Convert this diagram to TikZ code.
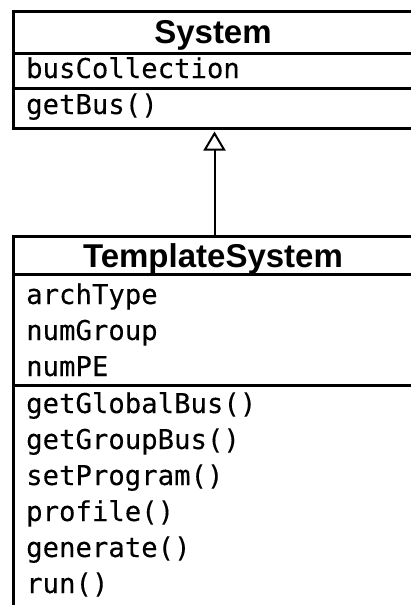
\documentclass[tikz,border=0pt]{standalone}
\usepackage{fontspec}
\setmainfont{Liberation Sans}
\newfontfamily\membfont[FakeBold=0.2]{DejaVu Sans Mono}
\usetikzlibrary{arrows.meta}

\tikzset{
  classbox/.style={draw=black, line width=3pt, fill=none, rectangle,
    anchor=north west, inner sep=0pt, minimum width=402pt},
  title/.style={anchor=base, inner sep=0pt,
    font=\fontsize{33}{33}\selectfont\bfseries},
  member/.style={anchor=base west, inner sep=0pt,
    font=\fontsize{27.3}{27.3}\selectfont\membfont},
  divider/.style={line width=3pt},
  inherits/.style={line width=2pt, shorten >=1.5pt,
    -{Triangle[open, length=19pt, width=22pt, line width=2pt]}}
}

\begin{document}
\begin{tikzpicture}[x=1pt, y=-1pt]
  \useasboundingbox (0,0) rectangle (411,605);
  \fill[white] (0,0) rectangle (411,605);
  \clip (0,0) rectangle (411,605);

  % base class
  \node[classbox, minimum height=117pt] (sys) at (12,10) {};
  \node[title] (systitle) at (213,43) {System};
  \draw[divider] (12,53) coordinate (s1l) -- (414,53) coordinate (s1r);
  \node[member] (buscoll) at (26,78) {busCollection};
  \draw[divider] (12,88.5) coordinate (s2l) -- (414,88.5) coordinate (s2r);
  \node[member] (getbus) at (26,114) {getBus()};

  % derived class
  \node[classbox, minimum height=370.5pt] (tmpl) at (12,235) {};
  \node[title] (tmpltitle) at (213,267) {TemplateSystem};
  \draw[divider] (12,274.5) coordinate (t1l) -- (414,274.5) coordinate (t1r);
  \node[member] (archtype) at (26,304) {archType};
  \node[member] (numgroup) at (26,340) {numGroup};
  \node[member] (numpe)    at (26,376) {numPE};
  \draw[divider] (12,385.5) coordinate (t2l) -- (414,385.5) coordinate (t2r);
  \node[member] (m1) at (26,413) {getGlobalBus()};
  \node[member] (m2) at (26,449) {getGroupBus()};
  \node[member] (m3) at (26,485) {setProgram()};
  \node[member] (m4) at (26,521) {profile()};
  \node[member] (m5) at (26,557) {generate()};
  \node[member] (m6) at (26,593) {run()};

  % generalisation
  \draw[inherits] (tmpl.north) -- (sys.south);
\end{tikzpicture}
\end{document}
